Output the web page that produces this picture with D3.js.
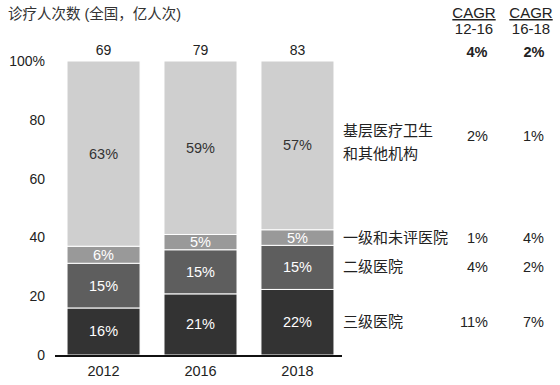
<!DOCTYPE html>
<html>
<head>
<meta charset="utf-8">
<script src="https://d3js.org/d3.v7.min.js"></script>
<style>
  body { margin: 0; background: #fff; }
  text { font-family: "Liberation Sans", Arial, "Noto Sans CJK SC", sans-serif; }
</style>
</head>
<body>
<svg id="chart" width="560" height="385"></svg>
<script>
  const years = ["2012", "2016", "2018"]
  const totals = [69, 79, 83]
  const segments = ["三级医院", "二级医院", "一级和未评医院", "基层医疗卫生和其他机构"]
  // shares (%), unrounded estimates so each bar reaches 100
  const shares = [
    [16.0, 20.8, 22.3],
    [15.2, 15.0, 15.0],
    [5.8, 5.2, 5.3],
    [63.0, 59.0, 57.4]
  ]
  const cagr1216 = ["11%", "4%", "1%", "2%"]
  const cagr1618 = ["7%", "2%", "4%", "1%"]
  const cagrTotal = ["4%", "2%"]
  const yTicks = [0, 20, 40, 60, 80, 100]
  const fills = ["#333333", "#5e5e5e", "#999999", "#cfcfcf"]
  const textFills = ["#fff", "#fff", "#fff", "#333"]

  const svg = d3.select("#chart")
  const x = d3.scaleBand().domain(years).range([55, 346]).paddingInner(0.247).paddingOuter(0.124)
  const y = d3.scaleLinear().domain([0, 100]).range([355, 61])

  const stacked = years.map((yr, i) => {
    let acc = 0
    return shares.map((s, k) => {
      const d = { year: yr, k: k, y0: acc, y1: acc + s[i], v: s[i] }
      acc += s[i]
      return d
    })
  })

  svg.append("text").attr("x", 8).attr("y", 19).attr("font-size", 14.5).attr("fill", "#333")
    .text("诊疗人次数 (全国，亿人次)")

  // y axis labels
  svg.selectAll(".ytick").data(yTicks).join("text")
    .attr("x", 45).attr("y", d => y(d) + 5)
    .attr("text-anchor", "end").attr("font-size", 14).attr("fill", "#222")
    .text(d => d === 100 ? "100%" : d)

  stacked.forEach(col => {
    const g = svg.append("g")
    g.selectAll("rect").data(col).join("rect")
      .attr("x", d => x(d.year)).attr("width", x.bandwidth())
      .attr("y", d => y(d.y1)).attr("height", d => y(d.y0) - y(d.y1))
      .attr("fill", d => fills[d.k]).attr("stroke", "#fff").attr("stroke-width", 1)
    g.selectAll("text").data(col).join("text")
      .attr("x", d => x(d.year) + x.bandwidth() / 2)
      .attr("y", d => (y(d.y0) + y(d.y1)) / 2 + 5)
      .attr("text-anchor", "middle").attr("font-size", 14.5)
      .attr("fill", d => textFills[d.k])
      .text(d => Math.round(d.v) + "%")
  })

  svg.selectAll(".total").data(years).join("text")
    .attr("x", d => x(d) + x.bandwidth() / 2).attr("y", 55)
    .attr("text-anchor", "middle").attr("font-size", 14).attr("fill", "#222")
    .text((d, i) => totals[i])

  const xAxis = svg.append("g").attr("transform", "translate(0,356)")
    .call(d3.axisBottom(x).tickSize(0).tickPadding(10))
  xAxis.select(".domain").attr("d", "M55,0H342").attr("stroke", "#111").attr("stroke-width", 2)
  xAxis.selectAll("text").attr("font-size", 14.5).attr("fill", "#222")
    .attr("font-family", "Liberation Sans, Arial, sans-serif")

  // right side labels, aligned with 2018 segments
  const last = stacked[stacked.length - 1]
  last.forEach(d => {
    const cy = (y(d.y0) + y(d.y1)) / 2
    const t = svg.append("text").attr("x", 343).attr("font-size", 15).attr("fill", "#222")
    if (d.k === 3) {
      t.append("tspan").attr("x", 343).attr("y", cy - 9).text("基层医疗卫生")
      t.append("tspan").attr("x", 343).attr("y", cy + 14).text("和其他机构")
    } else {
      t.attr("y", cy + 5).text(segments[d.k])
    }
    const ty = d.k === 3 ? cy - 4 : cy + 5
    svg.append("text").attr("x", 488).attr("y", ty).attr("text-anchor", "end")
      .attr("font-size", 14.5).attr("fill", "#222").text(cagr1216[d.k])
    svg.append("text").attr("x", 544).attr("y", ty).attr("text-anchor", "end")
      .attr("font-size", 14.5).attr("fill", "#222").text(cagr1618[d.k])
  })

  // CAGR header
  const heads = [["12-16", 474], ["16-18", 531]]
  heads.forEach((h, i) => {
    svg.append("text").attr("x", h[1]).attr("y", 18).attr("text-anchor", "middle")
      .attr("font-size", 15).attr("fill", "#222").attr("text-decoration", "underline").text("CAGR")
    svg.append("text").attr("x", h[1]).attr("y", 34).attr("text-anchor", "middle")
      .attr("font-size", 15).attr("fill", "#222").text(h[0])
    svg.append("text").attr("x", h[1] + 3).attr("y", 57).attr("text-anchor", "middle")
      .attr("font-size", 14.5).attr("font-weight", "bold").attr("fill", "#222").text(cagrTotal[i])
  })
</script>
</body>
</html>
